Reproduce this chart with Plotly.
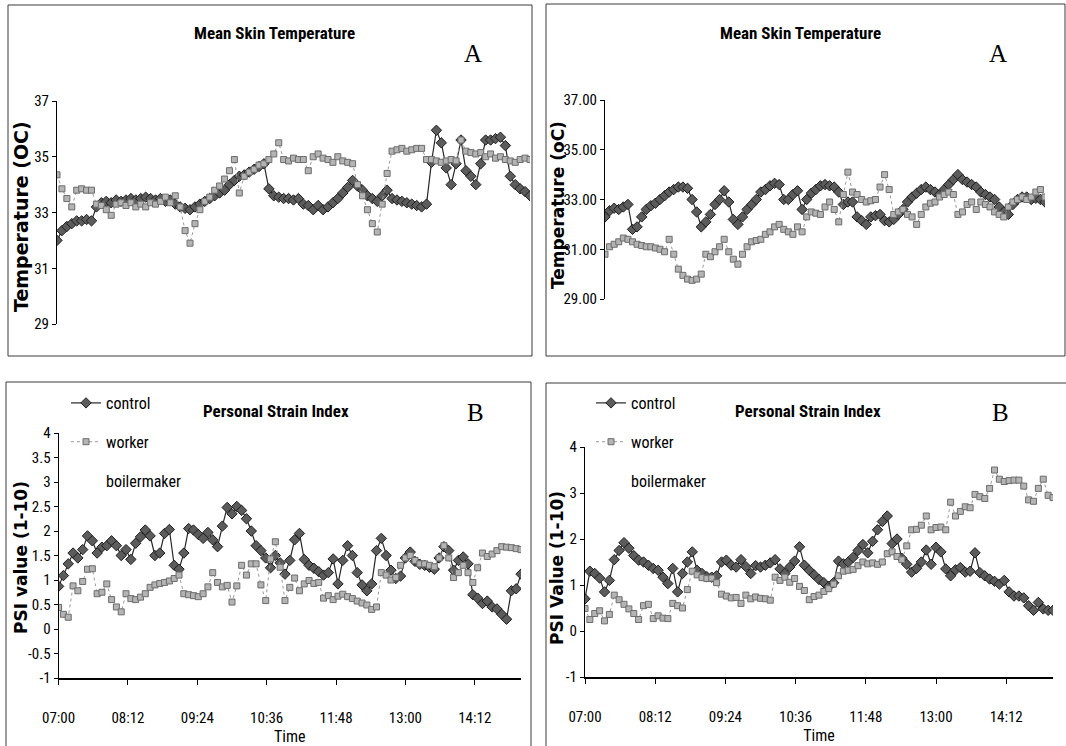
import plotly.graph_objects as go

# ---------------- data ----------------
minutes = list(range(0, 481, 5))  # sampling grid, minutes after 07:00

time_tickvals = [0, 72, 144, 216, 288, 360, 432]
time_ticktext = ["07:00", "08:12", "09:24", "10:36", "11:48", "13:00", "14:12"]

temp_ticks_left = [29, 31, 33, 35, 37]
temp_ticktext_left = ["29", "31", "33", "35", "37"]
temp_ticks_right = [29, 31, 33, 35, 37]
temp_ticktext_right = ["29.00", "31.00", "33.00", "35.00", "37.00"]

psi_ticks_left = [-1, -0.5, 0, 0.5, 1, 1.5, 2, 2.5, 3, 3.5, 4]
psi_ticktext_left = ["-1", "-0.5", "0", "0.5", "1", "1.5", "2", "2.5", "3", "3.5", "4"]
psi_ticks_right = [-1, 0, 1, 2, 3, 4]
psi_ticktext_right = ["-1", "0", "1", "2", "3", "4"]

# Mean skin temperature, left panel
tsk_left_control = [
    32.0, 32.35, 32.5, 32.6, 32.7, 32.7, 32.75, 32.7, 33.2, 33.35,
    33.4, 33.35, 33.45, 33.4, 33.45, 33.5, 33.45, 33.5, 33.55, 33.5,
    33.45, 33.5, 33.4, 33.45, 33.3, 33.2, 33.15, 33.1, 33.2, 33.3,
    33.4, 33.5, 33.6, 33.7, 33.8, 34.0, 34.15, 34.3, 34.35, 34.45,
    34.55, 34.65, 34.75, 33.85, 33.6, 33.55, 33.5, 33.5, 33.45, 33.5,
    33.3, 33.25, 33.1, 33.25, 33.1, 33.2, 33.35, 33.5, 33.7, 33.9,
    34.15, 33.95, 33.8, 33.6, 33.5, 33.4, 33.6, 33.8, 33.5, 33.45,
    33.4, 33.35, 33.3, 33.25, 33.2, 33.3, 34.8, 35.95, 35.5, 34.6,
    34.0, 34.75, 35.6, 34.5, 34.3, 34.0, 34.75, 35.6, 35.6, 35.65,
    35.7, 35.4, 34.3, 34.0, 33.85, 33.75, 33.6]
tsk_left_worker = [
    34.35, 33.85, 33.5, 33.2, 33.8, 33.85, 33.8, 33.8, 33.3, 33.25,
    33.1, 32.9, 33.3, 33.35, 33.25, 33.35, 33.2, 33.3, 33.2, 33.35,
    33.3, 33.4, 33.55, 33.35, 33.6, 33.2, 32.35, 31.9, 32.6, 33.1,
    33.4, 33.55, 33.8, 33.95, 34.2, 34.5, 34.9, 33.7, 34.3, 34.45,
    34.55, 34.7, 34.75, 34.9, 35.1, 35.5, 34.9, 34.85, 34.95, 34.9,
    34.9, 34.5, 35.0, 35.1, 34.95, 34.9, 34.8, 35.0, 34.85, 34.8,
    34.75, 34.0, 33.6, 33.1, 32.6, 32.3, 33.3, 34.4, 35.2, 35.25,
    35.3, 35.2, 35.25, 35.3, 35.3, 34.9, 34.9, 34.85, 34.8, 34.85,
    34.9, 34.85, 35.6, 35.2, 35.15, 35.1, 35.15, 35.0, 35.1, 34.95,
    35.0, 34.9, 34.85, 34.8, 34.9, 34.95, 34.9]

# Mean skin temperature, right panel
tsk_right_control = [
    32.3, 32.55, 32.65, 32.6, 32.7, 32.8, 31.8, 31.9, 32.3, 32.6,
    32.75, 32.85, 33.0, 33.15, 33.3, 33.4, 33.5, 33.5, 33.45, 33.0,
    32.5, 31.9, 32.1, 32.4, 32.8, 33.0, 33.35, 32.9, 32.2, 32.0,
    32.3, 32.6, 32.8, 33.0, 33.3, 33.4, 33.55, 33.65, 33.6, 33.0,
    33.0, 33.2, 33.35, 32.6, 33.0, 33.25, 33.4, 33.55, 33.6, 33.55,
    33.5, 33.3, 32.8, 32.9, 32.9, 32.3, 32.15, 32.0, 32.3, 32.35,
    32.4, 32.15, 32.1, 32.2, 32.4, 32.6, 32.9, 33.1, 33.25, 33.4,
    33.5, 33.4, 33.3, 33.2, 33.4, 33.6, 33.8, 34.0, 33.8, 33.7,
    33.6, 33.5, 33.3, 33.2, 33.1, 33.0, 32.7, 32.5, 32.4, 32.8,
    33.0, 33.1, 33.1, 33.0, 33.05, 33.0, 32.9]
tsk_right_worker = [
    30.8, 31.1, 31.2, 31.3, 31.45, 31.4, 31.3, 31.2, 31.15, 31.1,
    31.1, 31.05, 31.0, 30.9, 31.4, 30.8, 30.2, 29.95, 29.8, 29.75,
    29.8, 30.0, 30.8, 30.7, 30.9, 31.1, 31.4, 30.9, 30.6, 30.4,
    30.8, 31.1, 31.3, 31.35, 31.4, 31.6, 31.7, 31.9, 32.0, 31.8,
    31.7, 31.6, 31.9, 31.7, 32.3, 32.5, 32.45, 32.4, 32.7, 32.9,
    32.6, 32.1, 33.2, 34.1, 33.3, 33.2, 33.0, 32.9, 32.95, 33.0,
    33.5, 34.0, 33.4, 32.4, 32.5, 32.6, 32.4, 32.3, 32.0, 32.4,
    32.7, 32.85, 32.9, 33.1, 33.2, 33.3, 33.2, 32.4, 32.5, 32.8,
    32.9, 32.6, 32.9, 32.8, 32.7, 32.5, 32.4, 32.3, 32.7, 32.9,
    33.0, 33.1, 33.0, 33.1, 33.3, 33.4, 33.1]

# Personal strain index, left panel
psi_left_control = [
    0.87, 1.09, 1.33, 1.55, 1.45, 1.62, 1.9, 1.8, 1.55, 1.67,
    1.7, 1.8, 1.7, 1.5, 1.62, 1.42, 1.75, 1.88, 2.02, 1.9,
    1.5, 1.55, 1.95, 2.03, 1.3, 1.22, 1.55, 2.05, 2.02, 1.93,
    1.85, 1.97, 1.82, 1.68, 2.1, 2.48, 2.35, 2.5, 2.42, 2.25,
    2.0, 1.7, 1.6, 1.45, 1.25, 1.5, 1.35, 1.12, 1.4, 1.82,
    1.95, 1.42, 1.3, 1.24, 1.17, 1.1, 1.15, 1.43, 0.92, 1.4,
    1.7, 1.5, 1.15, 0.9, 0.78, 0.92, 1.6, 1.85, 1.5, 1.2,
    1.03, 1.08, 1.45, 1.57, 1.38, 1.32, 1.3, 1.26, 1.22, 1.45,
    1.68, 1.6, 1.2, 1.4, 1.47, 1.33, 0.7, 0.63, 0.52, 0.57,
    0.45, 0.41, 0.3, 0.2, 0.78, 0.82, 1.12]
psi_left_worker = [
    0.44, 0.3, 0.24, 0.88, 0.78, 0.97, 1.22, 1.23, 0.72, 0.75,
    0.92, 0.6, 0.45, 0.35, 0.72, 0.62, 0.6, 0.65, 0.72, 0.85,
    0.9, 0.93, 0.95, 0.98, 1.03, 1.1, 0.72, 0.7, 0.68, 0.66,
    0.72, 0.86, 1.15, 0.95, 0.86, 0.89, 0.55, 0.88, 1.3, 1.1,
    1.33, 1.33, 0.9, 0.58, 1.43, 1.78, 1.26, 0.58, 0.85, 1.04,
    0.78, 0.92, 0.99, 0.93, 0.95, 0.63, 0.68, 0.6, 0.67, 0.71,
    0.66, 0.62, 0.57, 0.53, 0.49, 0.4, 0.45, 1.15, 1.1, 1.0,
    1.05, 1.3, 1.45, 1.5, 1.4, 1.33, 1.33, 1.3, 1.27, 1.45,
    1.7, 1.45, 1.05, 1.15, 1.3, 1.15, 0.95, 1.25, 1.55, 1.48,
    1.53, 1.6, 1.68, 1.67, 1.66, 1.64, 1.62]

# Personal strain index, right panel
psi_right_control = [
    0.7, 1.3, 1.25, 1.15, 0.85, 1.1, 1.55, 1.75, 1.92, 1.8,
    1.64, 1.54, 1.5, 1.43, 1.36, 1.32, 1.17, 1.03, 1.36, 0.85,
    1.25, 1.5, 1.72, 1.32, 1.25, 1.18, 1.17, 1.2, 1.5, 1.54,
    1.43, 1.39, 1.55, 1.4, 1.25, 1.42, 1.39, 1.43, 1.48, 1.55,
    1.35, 1.25, 1.39, 1.52, 1.83, 1.43, 1.32, 1.22, 1.12, 1.05,
    0.97, 1.05, 1.52, 1.46, 1.5, 1.6, 1.75, 1.88, 1.7, 1.95,
    2.2, 2.38, 2.5, 1.9, 2.0, 1.58, 1.45, 1.28, 1.36, 1.5,
    1.76, 1.45, 1.82, 1.72, 1.35, 1.2, 1.33, 1.38, 1.28, 1.3,
    1.7, 1.27, 1.2, 1.13, 1.08, 1.02, 1.1, 0.85, 0.76, 0.76,
    0.72, 0.55, 0.45, 0.62, 0.48, 0.45, 0.45]
psi_right_worker = [
    0.49, 0.25, 0.38, 0.44, 0.22, 0.36, 0.78, 0.68, 0.58, 0.48,
    0.38, 0.25, 0.55, 0.58, 0.27, 0.33, 0.28, 0.27, 0.6, 0.55,
    0.5, 0.9, 1.3, 1.22, 1.16, 1.14, 1.15, 1.05, 0.8, 0.76,
    0.72, 0.73, 0.6, 0.78, 0.7, 0.74, 0.71, 0.7, 0.67, 1.17,
    1.1, 1.17, 1.06, 1.14, 0.97, 0.88, 0.68, 0.75, 0.78, 0.86,
    0.92, 1.02, 1.2, 1.3, 1.32, 1.34, 1.42, 1.5, 1.46, 1.48,
    1.45, 1.5, 1.68, 1.72, 1.62, 1.55, 1.85, 2.2, 2.21, 2.3,
    2.5, 2.2, 2.25, 2.26, 2.2, 2.8, 2.5, 2.6, 2.7, 2.68,
    2.97, 2.92, 2.88, 3.1, 3.5, 3.3, 3.25, 3.27, 3.28, 3.28,
    3.15, 2.85, 2.82, 3.1, 3.3, 2.95, 2.9]

# ---------------- styling ----------------
W, H = 1066, 746
NARROW = "Liberation Sans Narrow, Arial Narrow, Roboto Condensed, DejaVu Sans Condensed, Roboto, sans-serif"
WIDE_BOLD = "DejaVu Sans, Verdana, sans-serif"
SERIF = "Liberation Serif, Times New Roman, serif"


def fx(p):
    return p / W


def fy(p):
    return 1 - p / H


fig = go.Figure()


def add_panel(ctrl, work, xa, ya, legend=None):
    show = legend is not None
    fig.add_trace(go.Scatter(
        x=minutes, y=ctrl, mode="lines+markers", name="control",
        xaxis=xa, yaxis=ya, showlegend=show, legend=legend or "legend",
        legendgroup="c" + xa,
        marker=dict(symbol="diamond", size=8, color="#5c5c5c",
                    line=dict(color="#1e1e1e", width=1)),
        line=dict(color="#262626", width=1.2)))
    fig.add_trace(go.Scatter(
        x=minutes, y=work, mode="lines+markers", name="worker",
        xaxis=xa, yaxis=ya, showlegend=show, legend=legend or "legend",
        legendgroup="w" + xa,
        marker=dict(symbol="square", size=6, color="#b4b4b4",
                    line=dict(color="#6c6c6c", width=1)),
        line=dict(color="#9a9a9a", width=1, dash="dot")))
    if show:
        fig.add_trace(go.Scatter(
            x=[None], y=[None], mode="lines", name="boilermaker",
            xaxis=xa, yaxis=ya, legend=legend, legendgroup="b" + xa,
            line=dict(color="rgba(0,0,0,0)", width=1)))


add_panel(tsk_left_control, tsk_left_worker, "x", "y")
add_panel(tsk_right_control, tsk_right_worker, "x2", "y2")
add_panel(psi_left_control, psi_left_worker, "x3", "y3", legend="legend")
add_panel(psi_right_control, psi_right_worker, "x4", "y4", legend="legend2")

tickfont = dict(family=NARROW, size=15, color="black")

yax_common = dict(showgrid=False, zeroline=False, showline=True, linecolor="black",
                  linewidth=1, ticks="outside", ticklen=4, tickcolor="black",
                  tickfont=tickfont, automargin=False, fixedrange=True)
xax_hidden = dict(visible=False, range=[0, 480], automargin=False)
xax_time = dict(range=[0, 480], tickvals=time_tickvals, ticktext=time_ticktext,
                showgrid=False, zeroline=False, showline=True, linecolor="black",
                linewidth=2, ticks="outside", ticklen=5, tickcolor="black",
                tickfont=tickfont, automargin=False, ticklabelstandoff=20,
                title=dict(text="Time", font=dict(family=NARROW, size=16, color="black"),
                           standoff=0))

legend_common = dict(xanchor="left", yanchor="top", bgcolor="rgba(0,0,0,0)",
                     borderwidth=0, traceorder="grouped", tracegroupgap=15,
                     itemwidth=30, font=dict(family=NARROW, size=16, color="black"))

fig.update_layout(
    width=W, height=H,
    margin=dict(l=0, r=0, t=0, b=0),
    paper_bgcolor="white", plot_bgcolor="white",
    xaxis=dict(domain=[fx(57), fx(530)], anchor="y", **xax_hidden),
    yaxis=dict(domain=[fy(324), fy(101)], anchor="x", range=[29, 37],
               tickvals=temp_ticks_left, ticktext=temp_ticktext_left, **yax_common),
    xaxis2=dict(domain=[fx(605), fx(1045)], anchor="y2", **xax_hidden),
    yaxis2=dict(domain=[fy(299), fy(100)], anchor="x2", range=[29, 37],
                tickvals=temp_ticks_right, ticktext=temp_ticktext_right, **yax_common),
    xaxis3=dict(domain=[fx(58.6), fx(521)], anchor="y3", **xax_time),
    yaxis3=dict(domain=[fy(678), fy(433)], anchor="x3", range=[-1, 4],
                tickvals=psi_ticks_left, ticktext=psi_ticktext_left, **yax_common),
    xaxis4=dict(domain=[fx(585), fx(1053)], anchor="y4", **xax_time),
    yaxis4=dict(domain=[fy(677), fy(447)], anchor="x4", range=[-1, 4],
                tickvals=psi_ticks_right, ticktext=psi_ticktext_right, **yax_common),
    legend=dict(x=fx(66), y=fy(386), **legend_common),
    legend2=dict(x=fx(591), y=fy(386), **legend_common),
)

# panel frames
frame = dict(type="line", xref="paper", yref="paper", line=dict(color="#3a3a3a", width=1))
frames = [
    # top-left
    (8, 5, 532, 5), (8, 5, 8, 356), (532, 5, 532, 356), (8, 356, 532, 356),
    # top-right
    (546, 4, 1065, 4), (546, 4, 546, 356), (1065, 4, 1065, 356), (546, 356, 1065, 356),
    # bottom-left
    (6, 382, 531, 382), (6, 382, 6, 746), (531, 382, 531, 746),
    # bottom-right
    (546, 383, 1066, 383), (546, 383, 546, 746),
]
for (x0, y0, x1, y1) in frames:
    fig.add_shape(x0=fx(x0), y0=fy(y0), x1=fx(x1), y1=fy(y1), **frame)

ann = []


def text(x, y, s, font, angle=0):
    ann.append(dict(x=fx(x), y=fy(y), xref="paper", yref="paper", text=s,
                    showarrow=False, xanchor="center", yanchor="middle",
                    textangle=angle, font=font))


title_font = dict(family=NARROW, size=17, color="black", weight="bold")
text(274, 33, "Mean Skin Temperature", title_font)
text(800, 33, "Mean Skin Temperature", title_font)
text(276, 411, "Personal Strain Index", title_font)
text(808, 411, "Personal Strain Index", title_font)

letter_font = dict(family=SERIF, size=25, color="black")
text(473, 53, "A", letter_font)
text(998, 53, "A", letter_font)
text(475, 412, "B", letter_font)
text(1000, 412, "B", letter_font)

text(21, 217, "Temperature (OC)", dict(family=WIDE_BOLD, size=19, color="black", weight="bold"), -90)
text(558, 205, "Temperature (oC)", dict(family=WIDE_BOLD, size=17, color="black", weight="bold"), -90)
text(21, 558, "PSI value (1-10)", dict(family=WIDE_BOLD, size=17, color="black", weight="bold"), -90)
text(557, 568, "PSI Value (1-10)", dict(family=WIDE_BOLD, size=17, color="black", weight="bold"), -90)

fig.update_layout(annotations=ann)

# remove the default page margin so the figure sits at the window's top-left corner
fig.write_html("out.html", config={"displayModeBar": False},
               post_script="document.body.style.margin='0';")
